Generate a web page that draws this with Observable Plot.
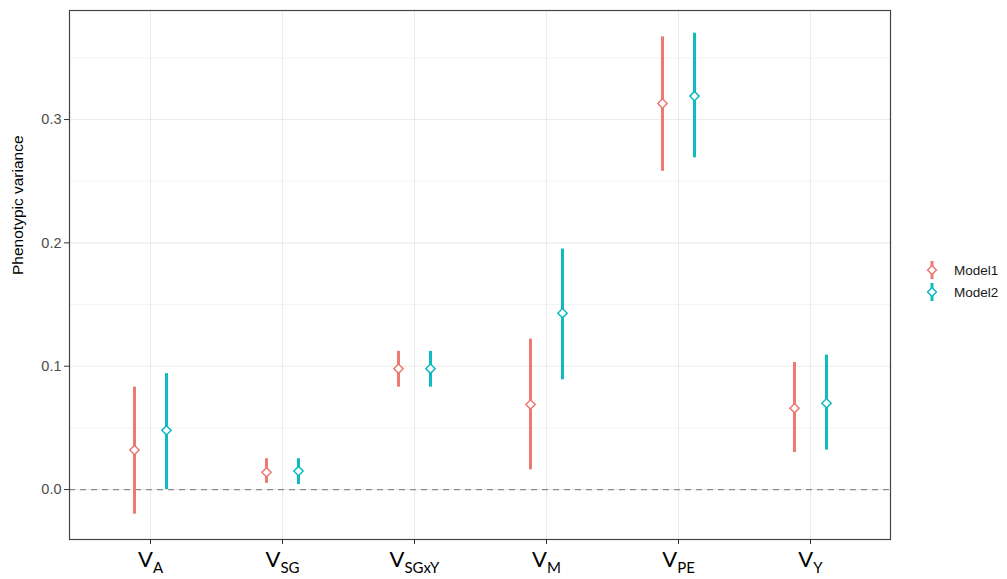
<!DOCTYPE html>
<html>
<head>
<meta charset="utf-8">
<script src="https://cdn.jsdelivr.net/npm/d3@7"></script>
<script src="https://cdn.jsdelivr.net/npm/@observablehq/plot@0.6"></script>
<style>
  html, body { margin: 0; padding: 0; background: #fff; }
  #wrap { position: relative; width: 1007px; height: 579px; }
  #legend { position: absolute; left: 923px; top: 259px; font-family: "Liberation Sans", Arial, sans-serif; font-size: 13.5px; color: #1a1a1a; }
  .item { display: flex; align-items: center; height: 22px; }
  .item svg { margin-right: 13px; }
</style>
</head>
<body>
<div id="wrap"><div id="legend"></div></div>
<script>
const categories = ["VA", "VSG", "VSGxY", "VM", "VPE", "VY"];
const models = ["Model1", "Model2"];
const colors = ["#EC7A72", "#0FBAC0"];

const model1Est = [0.032, 0.014, 0.098, 0.069, 0.313, 0.066];
const model1Lo  = [-0.020, 0.005, 0.083, 0.016, 0.258, 0.030];
const model1Hi  = [0.083, 0.025, 0.112, 0.122, 0.367, 0.103];

const model2Est = [0.048, 0.015, 0.098, 0.143, 0.319, 0.070];
const model2Lo  = [0.000, 0.004, 0.083, 0.089, 0.269, 0.032];
const model2Hi  = [0.094, 0.025, 0.112, 0.195, 0.370, 0.109];

const yTicks = [0, 0.1, 0.2, 0.3];
const yMinor = [0.05, 0.15, 0.25, 0.35];
const yTitle = "Phenotypic variance";

const rows = [];
categories.forEach((c, i) => {
  rows.push({cat: c, model: "Model1", est: model1Est[i], lo: model1Lo[i], hi: model1Hi[i]});
  rows.push({cat: c, model: "Model2", est: model2Est[i], lo: model2Lo[i], hi: model2Hi[i]});
});
const m1 = rows.filter(d => d.model === "Model1");
const m2 = rows.filter(d => d.model === "Model2");

const chart = Plot.plot({
  width: 1007,
  height: 579,
  marginLeft: 69,
  marginRight: 117,
  marginTop: 10,
  marginBottom: 40,
  style: {fontFamily: "'Liberation Sans', Arial, sans-serif", background: "#fff"},
  x: {type: "point", domain: categories, padding: 0.6},
  y: {domain: [-0.0405, 0.3884]},
  color: {domain: models, range: colors},
  marks: [
    Plot.ruleY(yMinor, {stroke: "#EBEBEB", strokeWidth: 0.6}),
    Plot.gridY(yTicks, {stroke: "#EBEBEB", strokeOpacity: 1, strokeWidth: 1.1}),
    Plot.gridX(categories, {stroke: "#EBEBEB", strokeOpacity: 1, strokeWidth: 1.1}),
    Plot.ruleY([0], {stroke: "#8c8c8c", strokeDasharray: "6,5", strokeWidth: 1.2}),
    Plot.ruleX(m1, {x: "cat", y1: "lo", y2: "hi", stroke: "model", strokeWidth: 3, dx: -16}),
    Plot.ruleX(m2, {x: "cat", y1: "lo", y2: "hi", stroke: "model", strokeWidth: 3, dx: 16}),
    Plot.dot(m1, {x: "cat", y: "est", stroke: "model", fill: "white", symbol: "diamond2", r: 4.2, strokeWidth: 1.5, dx: -16}),
    Plot.dot(m2, {x: "cat", y: "est", stroke: "model", fill: "white", symbol: "diamond2", r: 4.2, strokeWidth: 1.5, dx: 16}),
    Plot.frame({stroke: "#444", strokeWidth: 1.2}),
    Plot.axisY(yTicks, {tickFormat: d3.format(".1f"), tickSize: 5, tickPadding: 3, fontSize: 14.5, color: "#4D4D4D", stroke: "#333", label: null}),
    Plot.text([yTitle], {frameAnchor: "left", rotate: -90, dx: -51, fontSize: 15.5, fill: "#000"}),
    Plot.axisX(categories, {tickSize: 5, tickPadding: 7, fontSize: 22, label: null, stroke: "#333"})
  ]
});

document.getElementById("wrap").prepend(chart);

d3.select(chart).selectAll('g[aria-label="y-axis tick label"]').attr("fill", "#4D4D4D");

// subscripts on x tick labels
d3.select(chart).selectAll('g[aria-label="x-axis tick label"] text').each(function() {
  const t = d3.select(this);
  const key = t.text();
  t.text(null).attr("font-family", "Lato, 'Open Sans', sans-serif").attr("fill", "#000");
  t.append("tspan").text("V");
  t.append("tspan").attr("dy", 6).attr("font-size", 15).text(key.slice(1));
});

// legend
const legend = d3.select("#legend");
models.forEach((m, i) => {
  const it = legend.append("div").attr("class", "item");
  const s = it.append("svg").attr("width", 18).attr("height", 22);
  s.append("line").attr("x1", 9).attr("x2", 9).attr("y1", 2).attr("y2", 20).attr("stroke", colors[i]).attr("stroke-width", 3);
  s.append("path").attr("d", d3.symbol(d3.symbolDiamond2, 50)()).attr("transform", "translate(9,11)")
    .attr("fill", "white").attr("stroke", colors[i]).attr("stroke-width", 1.5);
  it.append("span").text(m);
});
</script>
</body>
</html>
